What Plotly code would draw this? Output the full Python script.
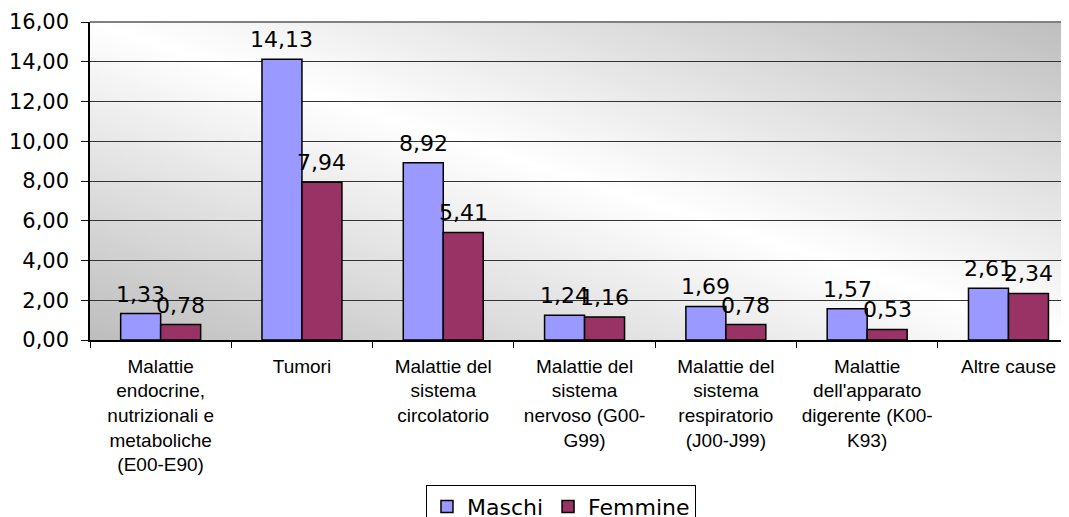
import base64
import plotly.graph_objects as go

categories = [
    "Malattie<br>endocrine,<br>nutrizionali e<br>metaboliche<br>(E00-E90)",
    "Tumori",
    "Malattie del<br>sistema<br>circolatorio",
    "Malattie del<br>sistema<br>nervoso (G00-<br>G99)",
    "Malattie del<br>sistema<br>respiratorio<br>(J00-J99)",
    "Malattie<br>dell'apparato<br>digerente (K00-<br>K93)",
    "Altre cause",
]
maschi = [1.33, 14.13, 8.92, 1.24, 1.69, 1.57, 2.61]
femmine = [0.78, 7.94, 5.41, 1.16, 0.78, 0.53, 2.34]
ytick_vals = [0, 2, 4, 6, 8, 10, 12, 14, 16]

svg = (
    '<svg xmlns="http://www.w3.org/2000/svg" width="100" height="100" '
    'viewBox="0 0 100 100" preserveAspectRatio="none">'
    '<defs><linearGradient id="g" x1="0" y1="1" x2="1" y2="0">'
    '<stop offset="0" stop-color="#bdbdbd"/>'
    '<stop offset="0.5" stop-color="#ffffff"/>'
    '<stop offset="1" stop-color="#bdbdbd"/>'
    '</linearGradient></defs>'
    '<rect x="0" y="0" width="100" height="100" fill="url(#g)"/></svg>'
)
svg_uri = "data:image/svg+xml;base64," + base64.b64encode(svg.encode()).decode()

vfont = "DejaVu Sans, Verdana, sans-serif"
label_font = dict(family=vfont, size=22, color="black")

fig = go.Figure()
fig.add_trace(go.Bar(
    x=categories, y=maschi, name="Maschi",
    marker=dict(color="#9999FF", line=dict(color="black", width=1.5)),
))
fig.add_trace(go.Bar(
    x=categories, y=femmine, name="Femmine",
    marker=dict(color="#993366", line=dict(color="black", width=1.5)),
))

annotations = []
for series, shift in ((maschi, -20), (femmine, 20)):
    for cat, val in zip(categories, series):
        annotations.append(dict(
            x=cat, y=val, xref="x", yref="y",
            text=f"{val:.2f}".replace(".", ","),
            showarrow=False, xanchor="center", yanchor="bottom",
            xshift=shift, yshift=5, font=label_font,
        ))

fig.update_layout(
    width=1069, height=517,
    margin=dict(l=82, r=0, t=14, b=185, autoexpand=False),
    paper_bgcolor="white",
    plot_bgcolor="rgba(0,0,0,0)",
    separators=",.",
    barmode="group",
    bargap=0.434,
    bargroupgap=0,
    showlegend=True,
    legend=dict(
        orientation="h", x=0.3404, y=-0.455, xanchor="left", yanchor="top",
        font=dict(family=vfont, size=22, color="black"),
        bordercolor="black", borderwidth=1, bgcolor="white",
        itemwidth=30, traceorder="normal",
    ),
    annotations=annotations,
    images=[dict(
        source=svg_uri, xref="paper", yref="paper", x=0, y=1,
        sizex=1, sizey=1, sizing="stretch", layer="below",
        xanchor="left", yanchor="top",
    )],
    shapes=[dict(
        type="line", xref="paper", yref="paper", x0=0, x1=1, y0=1, y1=1,
        line=dict(color="#808080", width=2),
    )],
)

fig.update_xaxes(
    range=[-0.5, 6.485], automargin=False,
    showline=True, linecolor="black", linewidth=1.5,
    ticks="outside", tickson="boundaries", ticklen=6, tickcolor="black",
    tickfont=dict(family="Liberation Sans, Arial, sans-serif", size=19, color="black"),
    ticklabelstandoff=8,
    showgrid=False,
)
fig.update_yaxes(
    range=[0, 16], automargin=False,
    tickvals=ytick_vals, tickformat=".2f",
    showline=True, linecolor="black", linewidth=1.5,
    ticks="outside", ticklen=7, tickcolor="black",
    tickfont=dict(family=vfont, size=21, color="black"),
    ticklabelstandoff=8,
    showgrid=True, gridcolor="#333333", gridwidth=1,
    zeroline=False,
)

fig.write_html("out.html")
